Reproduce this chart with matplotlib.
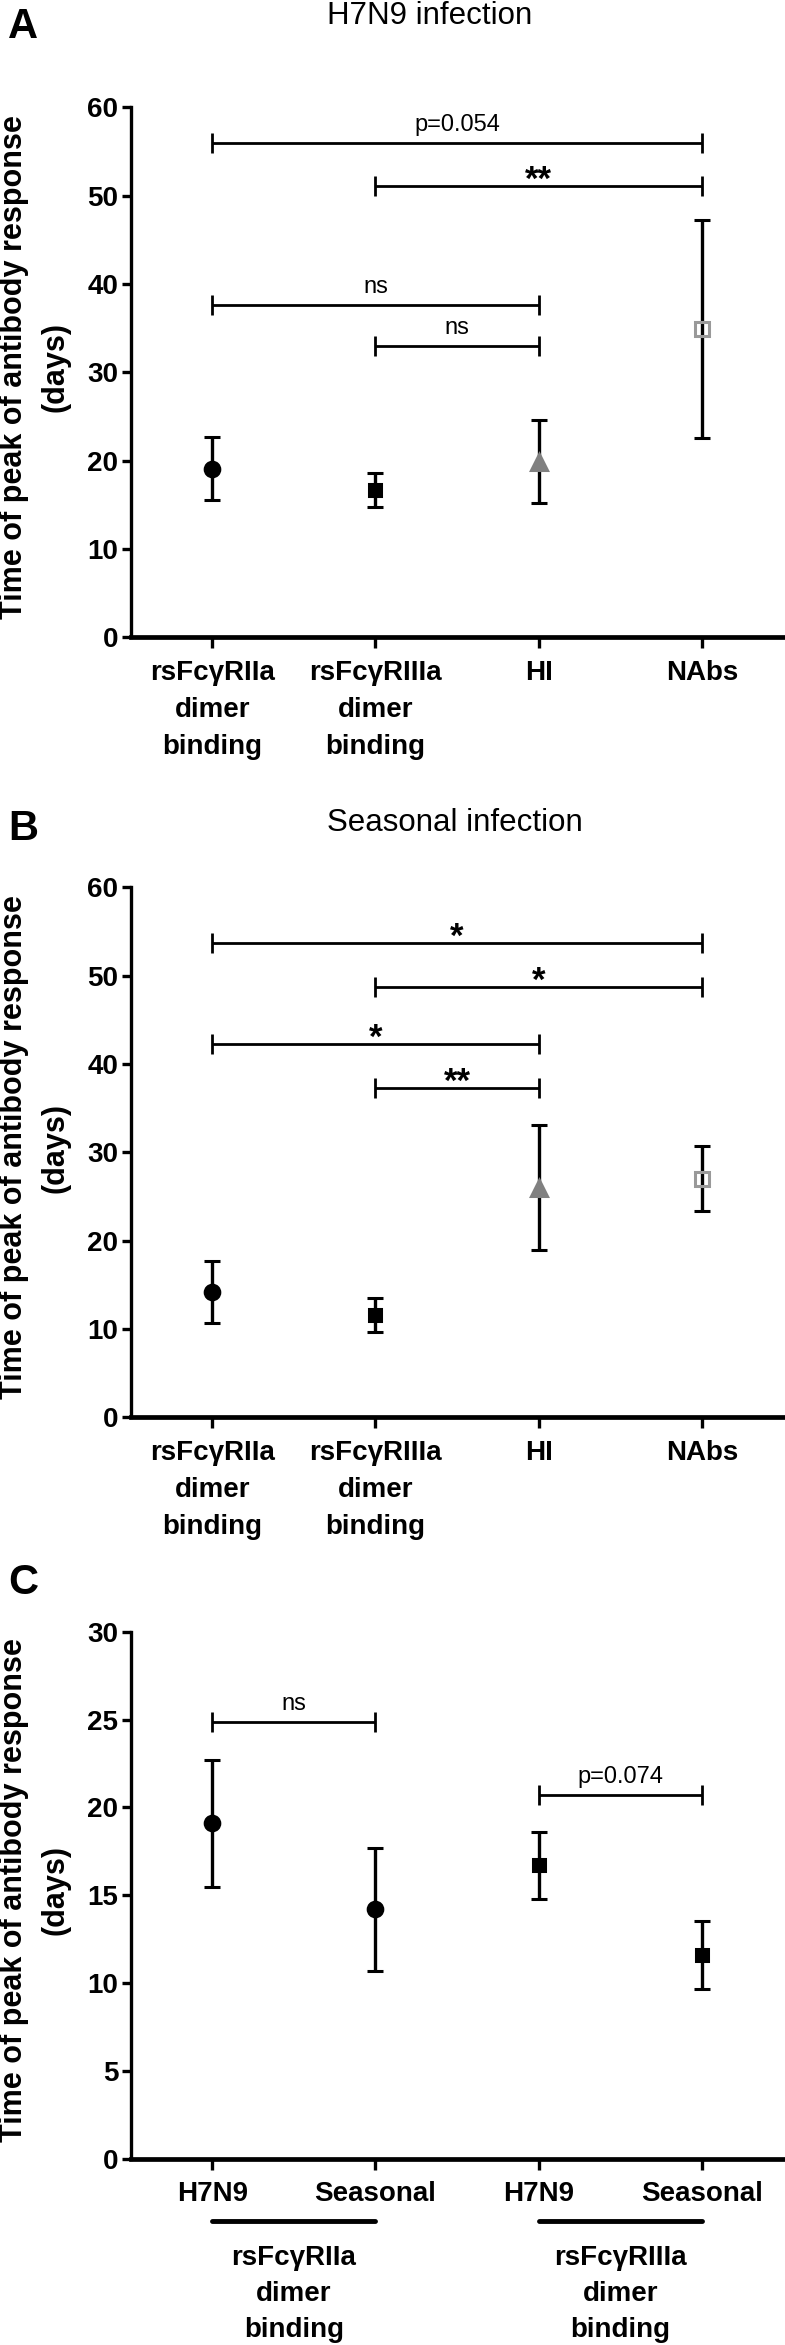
import matplotlib
matplotlib.use('Agg')
import matplotlib.pyplot as plt

plt.rcParams['font.family'] = ['Liberation Sans', 'DejaVu Sans']

# 数据
cats_ab = ['rsFcγRIIa\ndimer\nbinding', 'rsFcγRIIIa\ndimer\nbinding', 'HI', 'NAbs']
h7n9_mean = [19.1, 16.7, 19.9, 34.9]
h7n9_sem = [3.6, 1.9, 4.7, 12.35]
seasonal_mean = [14.2, 11.6, 26.0, 27.0]
seasonal_sem = [3.5, 1.95, 7.05, 3.7]

cats_c = ['H7N9', 'Seasonal', 'H7N9', 'Seasonal']
groups_c = ['rsFcγRIIa\ndimer\nbinding', 'rsFcγRIIIa\ndimer\nbinding']
c_mean = [19.1, 14.2, 16.7, 11.6]
c_sem = [3.6, 3.5, 1.9, 1.95]

h7n9_brackets = [(1, 4, 56.0, 'p=0.054'), (2, 4, 51.05, '**'),
                 (1, 3, 37.65, 'ns'), (2, 3, 33.0, 'ns')]
seasonal_brackets = [(1, 4, 53.66, '*'), (2, 4, 48.68, '*'),
                     (1, 3, 42.22, '*'), (2, 3, 37.25, '**')]
c_brackets = [(1, 2, 24.86, 'ns'), (3, 4, 20.72, 'p=0.074')]

ylabel = 'Time of peak of antibody response\n(days)'

W, H = 785, 2345
fig = plt.figure(figsize=(W / 100, H / 100), dpi=100, facecolor='w')


def px_axes(left, top, bottom):
    # 像素坐标 -> figure 坐标
    return fig.add_axes([left / W, 1 - bottom / H, 1 - left / W, (bottom - top) / H])


def style_axis(ax, ymax, step):
    ax.spines['top'].set_visible(False)
    ax.spines['right'].set_visible(False)
    ax.spines['left'].set_linewidth(2.4)
    ax.spines['bottom'].set_linewidth(3.4)
    ax.set_ylim(0, ymax)
    ax.set_yticks(range(0, ymax + 1, step))
    ax.set_xlim(0.5, 4.51)
    ax.set_xticks([1, 2, 3, 4])
    ax.tick_params(axis='y', direction='out', length=6.5, width=2.4, pad=2.5, labelsize=20)
    ax.tick_params(axis='x', direction='out', length=8, width=2.4, pad=8, labelsize=20)
    for lab in ax.get_yticklabels():
        lab.set_fontweight('bold')


def draw_points(ax, means, sems, styles):
    for i, (m, s) in enumerate(zip(means, sems)):
        mk, fc, ec, ms = styles[i]
        ax.errorbar(i + 1, m, yerr=s, fmt=mk, ms=ms, mfc=fc, mec=ec, mew=2.2,
                    ecolor='black', elinewidth=2.4, capsize=6, capthick=2.2, zorder=3)


def draw_brackets(ax, brackets):
    for x1, x2, y, txt in brackets:
        ax.plot([x1, x2], [y, y], color='black', lw=2, marker='|', ms=14.5, mew=2,
                solid_capstyle='butt', clip_on=False)
        if '*' in txt:
            ax.annotate(txt, xy=((x1 + x2) / 2, y), xytext=(0, -2.5), textcoords='offset points',
                        ha='center', va='baseline', fontsize=25, fontweight='bold')
        else:
            ax.annotate(txt, xy=((x1 + x2) / 2, y), xytext=(0, 5), textcoords='offset points',
                        ha='center', va='bottom', fontsize=17)


styles_ab = [('o', 'black', 'black', 10.5), ('s', 'black', 'black', 9),
             ('^', '#808080', '#808080', 11), ('s', 'none', '#999999', 10)]
styles_c = [('o', 'black', 'black', 10.5), ('o', 'black', 'black', 10.5),
            ('s', 'black', 'black', 9), ('s', 'black', 'black', 9)]

# A
axA = px_axes(130.7, 107.3, 637.3)
style_axis(axA, 60, 10)
axA.set_xticklabels(cats_ab, fontweight='bold', linespacing=1.56)
draw_points(axA, h7n9_mean, h7n9_sem, styles_ab)
draw_brackets(axA, h7n9_brackets)

# B
axB = px_axes(130.7, 887.3, 1417.3)
style_axis(axB, 60, 10)
axB.set_xticklabels(cats_ab, fontweight='bold', linespacing=1.56)
draw_points(axB, seasonal_mean, seasonal_sem, styles_ab)
draw_brackets(axB, seasonal_brackets)

# C
axC = px_axes(130.7, 1631.7, 2159)
style_axis(axC, 30, 5)
axC.set_xticklabels(cats_c, fontweight='bold')
draw_points(axC, c_mean, c_sem, styles_c)
draw_brackets(axC, c_brackets)
trans = axC.get_xaxis_transform()
for j, g in enumerate(groups_c):
    x1, x2 = 2 * j + 1, 2 * j + 2
    axC.plot([x1, x2], [-0.117, -0.117], transform=trans, color='black', lw=3.5,
             solid_capstyle='round', clip_on=False)
    axC.text((x1 + x2) / 2, -0.164, g, transform=trans, ha='center', va='top',
             fontsize=20, fontweight='bold', linespacing=1.5)

# 标题、面板字母、y 轴标题
for letter, ybase in [('A', 38), ('B', 840), ('C', 1594)]:
    fig.text(8 / W, 1 - ybase / H, letter, fontsize=30, fontweight='bold', va='baseline')
for title, ybase in [('H7N9 infection', 24), ('Seasonal infection', 831)]:
    fig.text(327 / W, 1 - ybase / H, title, fontsize=22.5, va='baseline', ha='left')
for yc in [367.5, 1147.5, 1890]:
    fig.text(35 / W, 1 - yc / H, ylabel, rotation=90, ha='center', va='center',
             multialignment='center', fontsize=22, fontweight='bold', linespacing=1.5)

fig.savefig('out.png', dpi=100, facecolor='w')
plt.close()
